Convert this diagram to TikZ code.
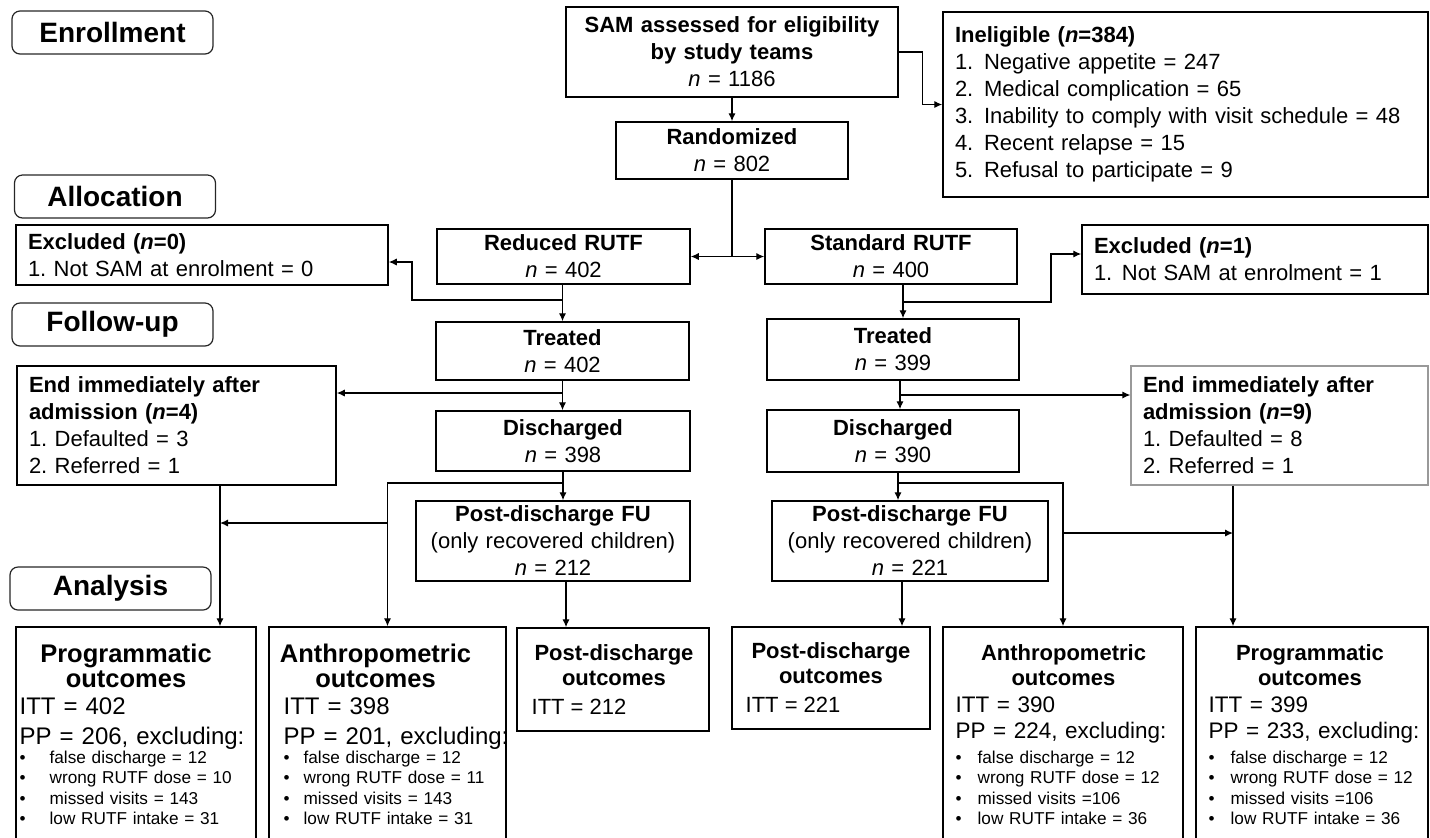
\documentclass[tikz,border=0pt]{standalone}
\usepackage{fontspec}
\setmainfont{Liberation Sans}
\frenchspacing
\usetikzlibrary{arrows.meta}
\newcommand\fmain{\fontsize{11}{13.5}\selectfont}
\tikzstyle{stage}=[draw=black!85, rounded corners=4pt, line width=0.6pt, minimum width=100.5pt, minimum height=21.5pt, inner sep=0pt, font=\bfseries\fontsize{14}{16}\selectfont]
\tikzstyle{box}=[draw, line width=0.75pt, inner xsep=6pt, inner ysep=0pt, font=\fmain, align=center]
\tikzstyle{lbox}=[box, align=left]
\tikzstyle{txt}=[inner sep=0pt, anchor=base west, align=left]
\tikzstyle{ttl}=[inner sep=0pt, anchor=base, align=center, text width=118pt]
\tikzstyle{arr}=[-{Latex[length=4pt,width=3.6pt]}]

\begin{document}
\begin{tikzpicture}[x=0.5pt,y=-0.5pt,line width=0.65pt]
	\useasboundingbox (0,0) rectangle (1430,837);
	\clip (0,0) rectangle (1430,837);
	% stage labels on the left
	\node[stage] (enrol) at (112.5,32.5) {Enrollment};
	\node[stage] (alloc) at (115,196.5) {Allocation};
	\node[stage] (follow) at (112.5,324.5) {Follow-up};
	\node[stage] (analys) at (110.5,588.5) {Analysis};
	%Enrollment
	\node[box, text width=154pt, minimum height=45pt] (sam) at (732,52) {\textbf{SAM assessed for eligibility}\\ \textbf{by study teams}\\ \textit{n} = 1186};
	\node[lbox, text width=230.5pt, minimum height=92.5pt] (inel) at (1185.5,104.5) {\textbf{Ineligible (\textit{n}=384)}\\
		\makebox[14.5pt][l]{1.}Negative appetite = 247\\
		\makebox[14.5pt][l]{2.}Medical complication = 65\\
		\makebox[14.5pt][l]{3.}Inability to comply with visit schedule = 48\\
		\makebox[14.5pt][l]{4.}Recent relapse = 15\\
		\makebox[14.5pt][l]{5.}Refusal to participate = 9};
	\node[box, text width=104pt, minimum height=28.5pt] (rand) at (732,150.5) {\textbf{Randomized}\\ \textit{n} = 802};
	\draw[arr] (sam) -- (rand);
	\draw[arr] (sam.east) -- ++(24,0) |- (inel.west); % to ineligible
	%Allocation
	\node[box, text width=114.5pt, minimum height=27.5pt] (redu) at (563.5,256.5) {\textbf{Reduced RUTF}\\ \textit{n} = 402};
	\node[box, text width=114pt, minimum height=27.5pt] (stan) at (891,256.5) {\textbf{Standard RUTF}\\ \textit{n} = 400};
	\node[lbox, text width=174pt, minimum height=30pt] (excl0) at (202,255) {\textbf{Excluded (\textit{n}=0)}\\ 1. Not SAM at enrolment = 0};
	\node[lbox, text width=161pt, minimum height=34.5pt] (excl1) at (1255,259.5) {\textbf{Excluded (\textit{n}=1)}\\ \makebox[14pt][l]{1.}Not SAM at enrolment = 1};
	\draw (rand.south) -- (rand.south |- redu.east) coordinate (rsplit); % rsplit = split point of the two arms
	\draw[arr] (rsplit) -- (redu.east);
	\draw[arr] (rsplit) -- (stan.west);
	%Follow-up
	\node[box, text width=114.5pt, minimum height=29pt] (treL) at (562.5,351) {\textbf{Treated}\\ \textit{n} = 402};
	\node[box, text width=114pt, minimum height=30.5pt] (treR) at (893,349.5) {\textbf{Treated}\\ \textit{n} = 399};
	\node[box, text width=115pt, minimum height=30pt] (disL) at (563,441) {\textbf{Discharged}\\ \textit{n} = 398};
	\node[box, text width=114pt, minimum height=31pt] (disR) at (893,441) {\textbf{Discharged}\\ \textit{n} = 390};
	\node[box, text width=125pt, minimum height=40pt] (fuL) at (553,541) {\textbf{Post-discharge FU}\\ (only recovered children)\\ \textit{n} = 212};
	\node[box, text width=126pt, minimum height=40pt] (fuR) at (910,541) {\textbf{Post-discharge FU}\\ (only recovered children)\\ \textit{n} = 221};
	\node[lbox, text width=147.5pt, minimum height=59.5pt] (endL) at (176.5,425.5) {\textbf{End immediately after}\\ \textbf{admission (\textit{n}=4)}\\ 1. Defaulted = 3\\ 2. Referred = 1};
	\node[lbox, draw=black!40, line width=0.6pt, text width=136.5pt, minimum height=59.5pt] (endR) at (1279.5,425.5) {\textbf{End immediately after}\\ \textbf{admission (\textit{n}=9)}\\ 1. Defaulted = 8\\ 2. Referred = 1};
	%Analysis boxes (cut by the lower edge)
	\node[box, minimum width=120pt, minimum height=111.5pt] (progL) at (136,738.5) {};
	\node[box, minimum width=118.5pt, minimum height=111.5pt] (anthL) at (387.5,738.5) {};
	\node[box, minimum width=96pt, minimum height=51.5pt] (pdoL) at (613,679.5) {};
	\node[box, minimum width=99pt, minimum height=51pt] (pdoR) at (831,678) {};
	\node[box, minimum width=120pt, minimum height=111.5pt] (anthR) at (1063,738.5) {};
	\node[box, minimum width=116pt, minimum height=111.5pt] (progR) at (1312,738.5) {};
	% reduced arm connectors
	\draw[arr] (treL.north |- redu.south) -- (treL.north);
	\draw[arr] (treL.north |- 0,300) -| (412,262) -- ([yshift=-3.5pt]excl0.east);
	\draw[arr] (treL.south) -- (treL.south |- disL.north);
	\draw[arr] (treL.south |- 0,393) -- (endL.east |- 0,393);
	\draw[arr] (disL.south) -- (disL.south |- fuL.north);
	\draw[arr] (disL.south |- 0,483) -| (anthL.north);
	\draw[arr] (endL.south -| 220,0) -- (progL.north -| 220,0);
	\coordinate (jL) at (220,523); % jL = joint on the left programmatic line
	\draw[arr] (anthL.north |- jL) -- (jL);
	\draw[arr] (fuL.south -| 566,0) -- (pdoL.north -| 566,0);
	% standard arm connectors
	\draw[arr] (stan.south -| 903,0) -- (treR.north -| 903,0);
	\draw[arr] (903,302) -| (1051,254) -- ([yshift=2.75pt]excl1.west);
	\draw[arr] (treR.south -| 900,0) -- (disR.north -| 900,0);
	\draw[arr] (900,395) -- (endR.west |- 0,395);
	\draw[arr] (disR.south -| 898,0) -- (fuR.north -| 898,0);
	\draw[arr] (898,483) -| (anthR.north);
	\draw[arr] (endR.south -| 1233,0) -- (progR.north -| 1233,0);
	\coordinate (jR) at (1233,533); % jR = joint on the right programmatic line
	\draw[arr] (anthR.north |- jR) -- (jR);
	\draw[arr] (fuR.south -| 902,0) -- (pdoR.north -| 902,0);
	%Texts of the analysis boxes
	\node[ttl, font=\bfseries\fontsize{12.75}{12.5}\selectfont] (progLt) at (126,662) {Programmatic\\ outcomes};
	\node[txt, text width=118pt, font=\fontsize{12}{15}\selectfont] (progLn) at (19,714) {ITT = 402\\ PP = 206, excluding:};
	\node[txt, text width=118pt, font=\fontsize{8.6}{10.25}\selectfont] (progLx) at (19,763) {\makebox[15pt][l]{\textbullet}false discharge = 12\\ \makebox[15pt][l]{\textbullet}wrong RUTF dose = 10\\ \makebox[15pt][l]{\textbullet}missed visits = 143\\ \makebox[15pt][l]{\textbullet}low RUTF intake = 31};
	\node[ttl, font=\bfseries\fontsize{12.75}{12.5}\selectfont] (anthLt) at (375.5,662) {Anthropometric\\ outcomes};
	\node[txt, text width=118pt, font=\fontsize{12}{15}\selectfont] (anthLn) at (283,714) {ITT = 398\\ PP = 201, excluding:};
	\node[txt, text width=118pt, font=\fontsize{8.6}{10.25}\selectfont] (anthLx) at (283,763) {\makebox[10pt][l]{\textbullet}false discharge = 12\\ \makebox[10pt][l]{\textbullet}wrong RUTF dose = 11\\ \makebox[10pt][l]{\textbullet}missed visits = 143\\ \makebox[10pt][l]{\textbullet}low RUTF intake = 31};
	\node[ttl, font=\bfseries\fontsize{11}{12.5}\selectfont] (pdoLt) at (614,660) {Post-discharge\\ outcomes};
	\node[txt, font=\fmain] (pdoLn) at (531,714) {ITT = 212};
	\node[ttl, font=\bfseries\fontsize{11}{12.5}\selectfont] (pdoRt) at (831,658) {Post-discharge\\ outcomes};
	\node[txt, font=\fmain] (pdoRn) at (745,712) {ITT = 221};
	\node[ttl, font=\bfseries\fontsize{11}{12.5}\selectfont] (anthRt) at (1063.5,660) {Anthropometric\\ outcomes};
	\node[txt, text width=118pt, font=\fontsize{11.25}{13}\selectfont] (anthRn) at (955,712) {ITT = 390\\ PP = 224, excluding:};
	\node[txt, text width=118pt, font=\fontsize{8.6}{10.25}\selectfont] (anthRx) at (955,763) {\makebox[11pt][l]{\textbullet}false discharge = 12\\ \makebox[11pt][l]{\textbullet}wrong RUTF dose = 12\\ \makebox[11pt][l]{\textbullet}missed visits =106\\ \makebox[11pt][l]{\textbullet}low RUTF intake = 36};
	\node[ttl, font=\bfseries\fontsize{11}{12.5}\selectfont] (progRt) at (1310,660) {Programmatic\\ outcomes};
	\node[txt, text width=112pt, font=\fontsize{11.25}{13}\selectfont] (progRn) at (1208,712) {ITT = 399\\ PP = 233, excluding:};
	\node[txt, text width=112pt, font=\fontsize{8.6}{10.25}\selectfont] (progRx) at (1208,763) {\makebox[11pt][l]{\textbullet}false discharge = 12\\ \makebox[11pt][l]{\textbullet}wrong RUTF dose = 12\\ \makebox[11pt][l]{\textbullet}missed visits =106\\ \makebox[11pt][l]{\textbullet}low RUTF intake = 36};
\end{tikzpicture}
\end{document}
